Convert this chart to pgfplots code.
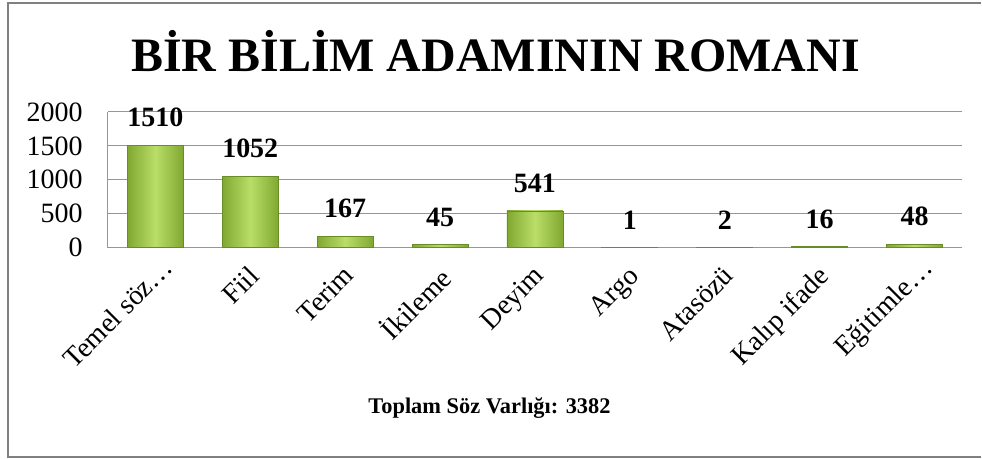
\documentclass[border=0pt]{standalone}
\usepackage{fontspec}
\setmainfont{Liberation Serif}
\usepackage{pgfplots}
\pgfplotsset{compat=1.18}
\definecolor{barlight}{RGB}{186,222,104}
\definecolor{bardark}{RGB}{128,168,48}
\definecolor{baredge}{RGB}{104,140,40}
\definecolor{gridgray}{RGB}{150,150,150}
\definecolor{framegray}{RGB}{128,128,128}

\pgfplotsset{
  greenbar/.style={ybar, bar shift=0pt, draw=baredge, line width=0.4pt,
    left color=bardark, right color=bardark, middle color=barlight},
}

\begin{document}
\begin{tikzpicture}
\begin{axis}[
    name=ax,
    scale only axis,
    width=427.5pt, height=68pt,
    xmin=-0.5, xmax=8.5,
    ymin=0, ymax=2000,
    ytick={0,500,1000,1500,2000},
    xtick={0,1,2,3,4,5,6,7,8},
    xticklabels={Temel söz…\kern-6pt, Fiil, Terim, İkileme, Deyim, Argo, Atasözü, Kalıp ifade, Eğitimle…\kern-6pt},
    axis x line*=bottom, axis y line*=left,
    axis line style={gridgray, line width=0.6pt},
    major tick length=0pt,
    ymajorgrids, grid style={gridgray, line width=0.6pt},
    /pgf/number format/assume math mode=true,
    /pgf/number format/1000 sep={},
    tick label style={font=\fontsize{14}{16}\selectfont},
    yticklabel style={inner sep=0pt, xshift=-12.5pt},
    xticklabel style={inner sep=0pt, xshift=-1.5pt, yshift=-8pt, rotate=45, anchor=north east},
    nodes near coords,
    every node near coord/.append style={font=\fontsize{14}{16}\selectfont\bfseries, inner sep=0pt, anchor=south, yshift=9pt, black},
    bar width=28pt,
]
% one plot per bar so each bar gets its own shading
\addplot[greenbar] coordinates {(0,1510)};
\addplot[greenbar] coordinates {(1,1052)};
\addplot[greenbar] coordinates {(2,167)};
\addplot[greenbar] coordinates {(3,45)};
\addplot[greenbar] coordinates {(4,541)};
\addplot[greenbar] coordinates {(5,1)};
\addplot[greenbar] coordinates {(6,2)};
\addplot[greenbar] coordinates {(7,16)};
\addplot[greenbar] coordinates {(8,48)};
\end{axis}
\begin{scope}[shift={(ax.south west)}]
  \node[font=\fontsize{24}{28}\selectfont\bfseries, anchor=base, inner sep=0pt] at (194pt,88pt) {BİR BİLİM ADAMININ ROMANI};
  \node[font=\fontsize{11.2}{13}\selectfont\bfseries, anchor=base, inner sep=0pt] at (191pt,-83pt) {Toplam Söz Varlığı: 3382};
  \draw[framegray, line width=1pt] (437pt,122.25pt) -- (-50pt,122.25pt) -- (-50pt,-104.5pt) -- (437pt,-104.5pt);
  \path (-54pt,-105.5pt) rectangle (437pt,124pt);
\end{scope}
\end{tikzpicture}
\end{document}
